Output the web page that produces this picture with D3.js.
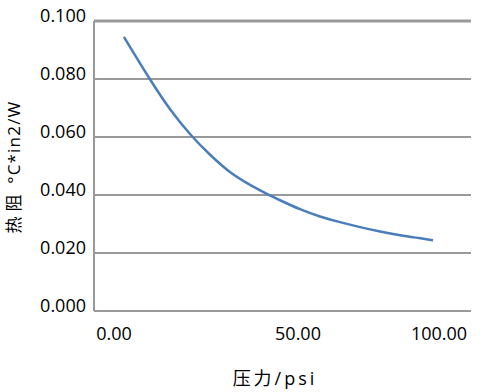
<!DOCTYPE html>
<html><head><meta charset="utf-8">
<script src="https://cdn.jsdelivr.net/npm/d3@7/dist/d3.min.js"></script>
<style>body{margin:0;background:#fff}svg{display:block}</style>
</head><body>
<script>
const pressure = [2.7, 9.8, 15.2, 21.2, 26.1, 31.5, 37.0, 42.4, 45.1, 50.7, 57.8, 64.9, 72.0, 79.1, 86.2, 93.3, 97.9];
const resistance = [0.0945, 0.0797, 0.0693, 0.0600, 0.0538, 0.0476, 0.0434, 0.0398, 0.0382, 0.0350, 0.0325, 0.0306, 0.0289, 0.0274, 0.0261, 0.0251, 0.0244];
const yTicks = [0, 0.02, 0.04, 0.06, 0.08, 0.10];
const xTicks = [0, 50, 100];
const xTitle = "压力/psi";
const yTitleCJK = "热阻";
const yTitleUnit = " °C*in2/W";

(function () {
const W = 493, H = 392;
const svg = d3.select("body").append("svg").attr("width", W).attr("height", H);
const pL = 94, pR = 471, pT = 21, pB = 311;
const x = d3.scaleLinear().domain([0, 50, 100]).range([114, 298, 439]);
const y = d3.scaleLinear().domain([0, 0.1]).range([pB, pT]);
const font = "'Open Sans','Noto Sans CJK SC',sans-serif";

svg.append("g").selectAll("line").data(yTicks).join("line")
  .attr("x1", pL).attr("x2", pR)
  .attr("y1", d => y(d)).attr("y2", d => y(d))
  .attr("stroke", "#999").attr("stroke-width", d => d === 0.1 ? 3 : 2);
svg.append("line").attr("x1", pL).attr("x2", pL).attr("y1", pT).attr("y2", pB)
  .attr("stroke", "#999").attr("stroke-width", 2);

svg.append("g").selectAll("text").data(yTicks).join("text")
  .attr("x", 86).attr("y", d => y(d) + 1)
  .attr("text-anchor", "end").attr("font-family", font).attr("font-size", 18)
  .attr("fill", "#000").text(d => d.toFixed(3));

svg.append("g").selectAll("text").data(xTicks).join("text")
  .attr("x", d => x(d)).attr("y", 340)
  .attr("text-anchor", "middle").attr("font-family", font).attr("font-size", 18)
  .attr("fill", "#000").text(d => d.toFixed(2));

const pts = pressure.map((p, i) => [p, resistance[i]]);
svg.append("path").datum(pts)
  .attr("d", d3.line().x(d => x(d[0])).y(d => y(d[1])).curve(d3.curveBasis))
  .attr("fill", "none").attr("stroke", "#4a7ebb").attr("stroke-width", 2.5);

svg.append("text").attr("x", 275).attr("y", 385).attr("text-anchor", "middle")
  .attr("font-family", font).attr("font-size", 18).attr("letter-spacing", 3)
  .attr("fill", "#000").text(xTitle);
const yt = svg.append("text").attr("transform", "translate(20,167) rotate(-90)")
  .attr("text-anchor", "middle").attr("font-family", font).attr("font-size", 17)
  .attr("fill", "#000");
yt.append("tspan").attr("letter-spacing", 5).text(yTitleCJK);
yt.append("tspan").attr("letter-spacing", 1.2).text(yTitleUnit);
})();
</script>
</body></html>
